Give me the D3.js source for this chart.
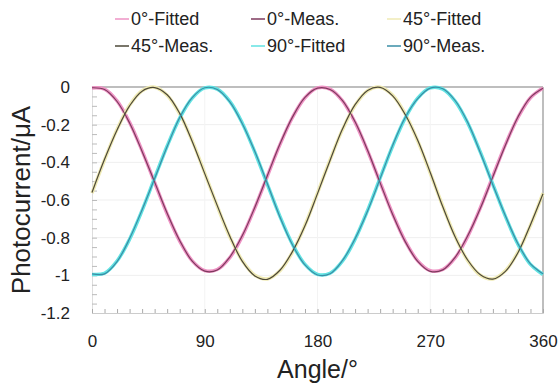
<!DOCTYPE html>
<html>
<head>
<meta charset="utf-8">
<script src="https://cdn.jsdelivr.net/npm/d3@7"></script>
<style>
  body { margin: 0; background: #fff; }
  svg text { font-family: "Liberation Sans", Arial, sans-serif; fill: #222; }
</style>
</head>
<body>
<div class="canvas"></div>
<script>
const [width, height] = [559, 387];

// angle in degrees
const angles = [0,10,20,30,40,50,60,70,80,90,100,110,120,130,140,150,160,170,180,
                190,200,210,220,230,240,250,260,270,280,290,300,310,320,330,340,350,360];

// photocurrent, uA
const fit0 = [-0.005,-0.011,-0.074,-0.188,-0.339,-0.507,-0.674,-0.818,-0.923,-0.975,-0.969,-0.906,-0.792,-0.641,-0.473,-0.306,-0.162,-0.057,-0.005,
              -0.011,-0.074,-0.188,-0.339,-0.507,-0.674,-0.818,-0.923,-0.975,-0.969,-0.906,-0.792,-0.641,-0.473,-0.306,-0.162,-0.057,-0.005];
const meas0 = [-0.004,-0.013,-0.077,-0.191,-0.342,-0.505,-0.670,-0.815,-0.925,-0.978,-0.972,-0.903,-0.789,-0.638,-0.470,-0.303,-0.160,-0.055,-0.006,
               -0.013,-0.072,-0.185,-0.336,-0.509,-0.677,-0.821,-0.926,-0.979,-0.971,-0.903,-0.789,-0.644,-0.476,-0.309,-0.159,-0.055,-0.007];
const fit45 = [-0.563,-0.387,-0.225,-0.097,-0.020,-0.001,-0.044,-0.143,-0.286,-0.457,-0.633,-0.795,-0.923,-1.000,-1.019,-0.976,-0.877,-0.734,-0.563,
               -0.387,-0.225,-0.097,-0.020,-0.001,-0.044,-0.143,-0.286,-0.457,-0.633,-0.795,-0.923,-1.000,-1.019,-0.976,-0.877,-0.734,-0.563];
const meas45 = [-0.560,-0.384,-0.228,-0.100,-0.022,-0.003,-0.041,-0.140,-0.289,-0.460,-0.630,-0.792,-0.926,-1.003,-1.021,-0.973,-0.874,-0.737,-0.566,
                -0.390,-0.222,-0.094,-0.018,-0.002,-0.047,-0.146,-0.283,-0.454,-0.636,-0.798,-0.920,-0.997,-1.020,-0.979,-0.880,-0.731,-0.567];
const fit90 = [-0.995,-0.989,-0.924,-0.808,-0.655,-0.483,-0.313,-0.165,-0.059,-0.005,-0.011,-0.076,-0.192,-0.346,-0.517,-0.687,-0.835,-0.942,-0.995,
               -0.989,-0.924,-0.808,-0.655,-0.483,-0.313,-0.165,-0.059,-0.005,-0.011,-0.076,-0.192,-0.346,-0.517,-0.687,-0.835,-0.942,-0.995];
const meas90 = [-0.992,-0.992,-0.927,-0.805,-0.652,-0.486,-0.316,-0.162,-0.056,-0.004,-0.013,-0.079,-0.195,-0.343,-0.514,-0.690,-0.838,-0.945,-0.998,
                -0.992,-0.921,-0.805,-0.658,-0.486,-0.310,-0.162,-0.062,-0.006,-0.009,-0.073,-0.189,-0.349,-0.520,-0.684,-0.832,-0.939,-0.992];

const xTicks = [0, 90, 180, 270, 360];
const yTicks = [0, -0.2, -0.4, -0.6, -0.8, -1, -1.2];
const yTickLabels = ['0', '-0.2', '-0.4', '-0.6', '-0.8', '-1', '-1.2'];

const series = [
  { name: '0°-Fitted',  values: fit0,   color: '#ee93c4', w: 3.5 },
  { name: '0°-Meas.',   values: meas0,  color: '#7e3a5e', w: 1.2 },
  { name: '45°-Fitted', values: fit45,  color: '#efeab4', w: 3.5 },
  { name: '45°-Meas.',  values: meas45, color: '#4d4838', w: 1.2 },
  { name: '90°-Fitted', values: fit90,  color: '#62e2e2', w: 3.5 },
  { name: '90°-Meas.',  values: meas90, color: '#3a8ea6', w: 1.2 }
];

const m = { left: 92, right: 543, top: 87, bottom: 313 };

const svg = d3.select('.canvas')
              .append('svg')
              .attr('width', width)
              .attr('height', height);

const x = d3.scaleLinear().domain([0, 360]).range([m.left, m.right]);
const y = d3.scaleLinear().domain([-1.2, 0]).range([m.bottom, m.top]);

// faint grid
svg.append('g')
   .selectAll('line')
   .data(yTicks.slice(1, -1))
   .enter()
   .append('line')
   .attr('x1', m.left).attr('x2', m.right)
   .attr('y1', d => y(d)).attr('y2', d => y(d))
   .attr('stroke', '#efefef');
svg.append('g')
   .selectAll('line')
   .data(xTicks.slice(1, -1))
   .enter()
   .append('line')
   .attr('y1', m.top).attr('y2', m.bottom)
   .attr('x1', d => x(d)).attr('x2', d => x(d))
   .attr('stroke', '#f3f3f3');

// minor ticks
svg.append('g')
   .attr('transform', `translate(${m.left},0)`)
   .call(d3.axisRight(y).ticks(24).tickSize(5).tickFormat(''))
   .call(g => g.select('.domain').attr('stroke', '#ddd'))
   .call(g => g.selectAll('.tick line').attr('stroke', '#bbb'));
svg.append('g')
   .attr('transform', `translate(0,${m.bottom})`)
   .call(d3.axisTop(x).ticks(36).tickSize(4).tickFormat(''))
   .call(g => g.select('.domain').attr('stroke', '#ccc'))
   .call(g => g.selectAll('.tick line').attr('stroke', '#aaa'));

// frame top / right
svg.append('line')
   .attr('x1', m.left).attr('x2', m.right)
   .attr('y1', m.top).attr('y2', m.top)
   .attr('stroke', '#a8a8a8').attr('stroke-width', 1.5);
svg.append('line')
   .attr('x1', m.right).attr('x2', m.right)
   .attr('y1', m.top).attr('y2', m.bottom)
   .attr('stroke', '#a8a8a8').attr('stroke-width', 1.5);

// tick labels
svg.append('g')
   .attr('transform', `translate(0,${m.bottom})`)
   .call(d3.axisBottom(x).tickValues(xTicks).tickSize(0).tickPadding(22))
   .call(g => g.select('.domain').remove())
   .call(g => g.selectAll('text').style('font-size', '17px'));
svg.append('g')
   .attr('transform', `translate(${m.left},0)`)
   .call(d3.axisLeft(y).tickValues(yTicks).tickSize(0).tickPadding(22).tickFormat((d, i) => yTickLabels[i]))
   .call(g => g.select('.domain').remove())
   .call(g => g.selectAll('text').style('font-size', '17px'));

// curves
const lineGenerator = d3.line()
   .x((d, i) => x(angles[i]))
   .y(d => y(d))
   .curve(d3.curveCatmullRom);

const order = [0, 2, 4, 1, 3, 5];
svg.append('g')
   .selectAll('path')
   .data(order.map(i => series[i]))
   .enter()
   .append('path')
   .attr('d', d => lineGenerator(d.values))
   .attr('fill', 'none')
   .attr('stroke', d => d.color)
   .attr('stroke-width', d => d.w);

// axis titles
svg.append('text')
   .attr('x', (m.left + m.right) / 2)
   .attr('y', 378)
   .attr('text-anchor', 'middle')
   .style('font-size', '25px')
   .text('Angle/°');
svg.append('text')
   .attr('transform', `translate(30,${(m.top + m.bottom) / 2}) rotate(-90)`)
   .attr('text-anchor', 'middle')
   .style('font-size', '26px')
   .text('Photocurrent/μA');

// legend, 3 columns x 2 rows
const legend = svg.append('g')
   .selectAll('g')
   .data(series)
   .enter()
   .append('g')
   .attr('transform', (d, i) => `translate(${[115, 251, 387][i % 3]},${[19, 46][Math.floor(i / 3)]})`);
legend.append('line')
   .attr('x1', 0).attr('x2', 14)
   .attr('stroke', d => d.color)
   .attr('stroke-width', 1.5);
legend.append('text')
   .attr('x', 16)
   .attr('dy', '0.35em')
   .style('font-size', '18px')
   .text(d => d.name);
</script>
</body>
</html>
